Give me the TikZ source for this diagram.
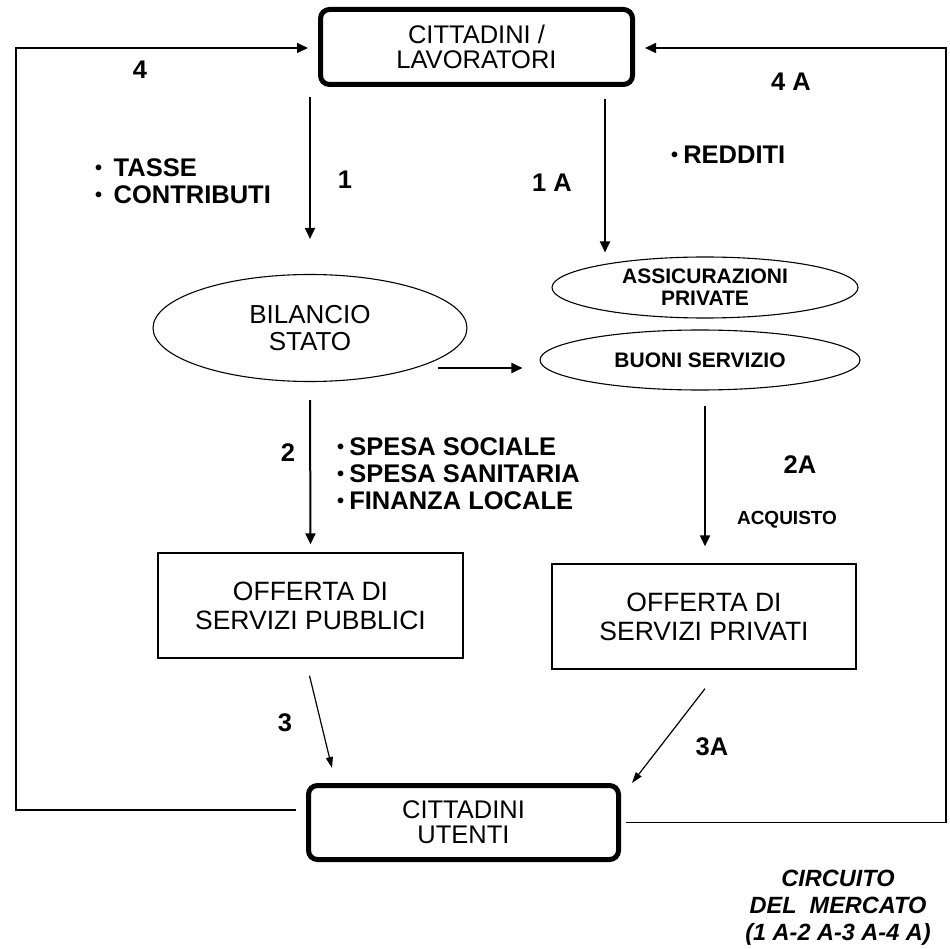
\documentclass[tikz,border=0pt]{standalone}
\usepackage{fontspec}
\setmainfont{Liberation Sans}
\usetikzlibrary{arrows.meta,shapes.geometric,calc}
\newcommand\bul{\raisebox{2.5pt}{\fontsize{20}{20}\selectfont\textbullet}\hspace{0.45em}}
\newcommand\bulb{\raisebox{2.5pt}{\fontsize{20}{20}\selectfont\textbullet}\hspace{0.2em}}
\begin{document}
\begin{tikzpicture}[x=1pt,y=-1pt,
  btxt/.style={font=\fontsize{25.5}{27}\selectfont\bfseries, inner sep=0pt},
  thickbox/.style={draw, line width=5pt, rounded corners=9pt, inner sep=0pt, align=center,
    font=\fontsize{25.5}{25}\selectfont},
  plainbox/.style={draw, line width=1.3pt, inner sep=0pt, align=center,
    font=\fontsize{26.5}{29}\selectfont},
  oval/.style={ellipse, draw, line width=1.1pt, inner sep=0pt, align=center},
  arr/.style={line width=2pt, -{Triangle[length=11pt,width=10pt]}},
  thinarr/.style={line width=1.2pt, -{Triangle[length=11pt,width=7pt]}},
  looparr/.style={line width=1.6pt, -{Triangle[length=11pt,width=10pt]}}
]
\useasboundingbox (0,0) rectangle (950,949);

% nodes
\node[thickbox, minimum width=312pt, minimum height=75pt] (top) at (476.5,47)
  {CITTADINI /\\LAVORATORI};
\node[oval, minimum width=314pt, minimum height=107pt, font=\fontsize{26}{27}\selectfont] (bil) at (310,328)
  {BILANCIO\\STATO};
\node[oval, minimum width=306pt, minimum height=61pt, font=\fontsize{21}{22}\selectfont\bfseries] (ass) at (705,287.5)
  {ASSICURAZIONI\\PRIVATE};
\node[oval, minimum width=320pt, minimum height=60pt, font=\fontsize{21}{22}\selectfont\bfseries] (buo) at (700,360)
  {BUONI SERVIZIO};
\node[plainbox, minimum width=305pt, minimum height=105pt] (pub) at (310.5,605.5)
  {OFFERTA DI\\SERVIZI PUBBLICI};
\node[plainbox, minimum width=304pt, minimum height=105pt] (pri) at (704,616.5)
  {OFFERTA DI\\SERVIZI PRIVATI};
\node[thickbox, minimum width=310pt, minimum height=74pt] (ute) at (463.5,822.5)
  {CITTADINI\\UTENTI};

% labels
\node[btxt] (l4) at (140,70) {4};
\node[btxt] (l4a) at (791,82) {4 A};
\node[btxt] (l1) at (345,180) {1};
\node[btxt] (l1a) at (552,183) {1 A};
\node[btxt, anchor=west, align=left] (tasse) at (95,181.5) {\bul TASSE\\\bul CONTRIBUTI};
\node[btxt, anchor=west, align=left] (redd) at (671,155) {\bulb REDDITI};
\node[btxt] (l2) at (288,453) {2};
\node[btxt, anchor=west, align=left] (spesa) at (337,474) {\bulb SPESA SOCIALE\\\bulb SPESA SANITARIA\\\bulb FINANZA LOCALE};
\node[btxt] (l2a) at (800,465) {2A};
\node[btxt, font=\fontsize{19}{20}\selectfont\bfseries] (acq) at (787,520) {ACQUISTO};
\node[btxt] (l3) at (285,723) {3};
\node[btxt] (l3a) at (712,747) {3A};
\node[align=center, inner sep=0pt, font=\fontsize{23.5}{27}\selectfont\bfseries\itshape] (circ) at (838,908)
  {CIRCUITO\\DEL\ \ MERCATO\\(1 A-2 A-3 A-4 A)};

% connectors
\draw[arr] ($(top.south -| bil.north)+(0,10)$) -- ($(bil.north)+(0,-35)$);
\draw[arr] ($(top.south east)+(-30,12)$) coordinate (c1a) -- ($(c1a |- ass.north)+(0,-4)$);
\draw[arr] ($(bil.east)+(-30,40)$) -- ($(buo.west)+(-17,8)$);
\draw[arr] ($(bil.south)+(0,18)$) -- ($(pub.north)+(0,-8)$);
\draw[arr] ($(buo.south)+(5,15)$) coordinate (c2a) -- ($(c2a |- pri.north)+(0,-17)$);
\draw[thinarr] ($(pub.south)+(-1,17)$) -- ($(ute.north)+(-131.5,-15)$);
\draw[thinarr] ($(pri.south)+(1,19)$) -- ($(ute.north east)+(11,0)$);

% return loops
\coordinate (lc) at (16,48);
\coordinate (rc) at (946,48);
\draw[looparr] ($(ute.west)+(-10,-12.5)$) -| (lc) -- ($(top.west)+(-10,1)$);
\draw[looparr] ($(ute.east)+(5,0)$) -| (rc) -- ($(top.east)+(10,1)$);
\end{tikzpicture}
\end{document}
